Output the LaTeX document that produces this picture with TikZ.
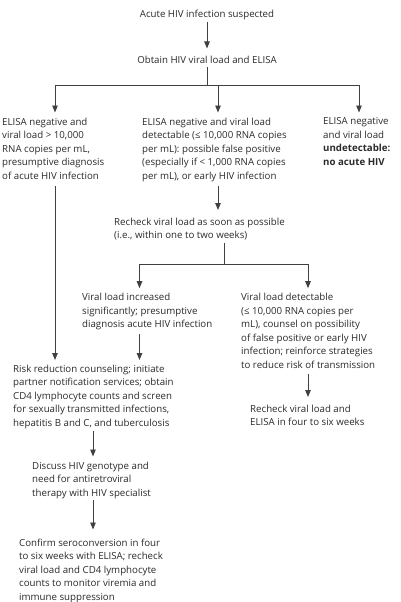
\documentclass[tikz,border=0pt]{standalone}
\usepackage{fontspec}
\setmainfont{Open Sans}
\usetikzlibrary{arrows.meta}
\definecolor{txt}{HTML}{2A2A2A}
\definecolor{lnc}{HTML}{404040}
\begin{document}
\begin{tikzpicture}[x=1pt,y=-1pt,
  txtnode/.style={inner sep=0pt, align=left, text=txt, font=\fontsize{9.7}{13.5}\selectfont,
    execute at begin node=\strut, execute at end node=\strut},
  ln/.style={draw=lnc, line width=0.9pt},
  arr/.style={ln, -{Triangle[length=7pt,width=5.5pt]}, shorten >=5pt}]
\useasboundingbox (0,0) rectangle (400,602);
\node[txtnode, anchor=north] (acute) at (207,7.5) {Acute HIV infection suspected};
\node[txtnode, anchor=north] (obtain) at (207,53.5) {Obtain HIV viral load and ELISA};
\node[txtnode, anchor=north west] (n1) at (2,117.5) {ELISA negative and\\viral load > 10,000\\RNA copies per mL,\\presumptive diagnosis\\of acute HIV infection};
\node[txtnode, anchor=north west] (n2) at (142,117.5) {ELISA negative and viral load\\detectable (≤ 10,000 RNA copies\\per mL): possible false positive\\(especially if < 1,000 RNA copies\\per mL), or early HIV infection};
\node[txtnode, anchor=north west] (n3) at (323,117.5) {ELISA negative\\and viral load\\\textbf{undetectable:}\\\textbf{no acute HIV}};
\node[txtnode, anchor=north west] (rc1) at (114,217.5) {Recheck viral load as soon as possible\\(i.e., within one to two weeks)};
\node[txtnode, anchor=north west] (vinc) at (82,293.2) {Viral load increased\\significantly; presumptive\\diagnosis acute HIV infection};
\node[txtnode, anchor=north west] (vdet) at (241,293.2) {Viral load detectable\\(≤ 10,000 RNA copies per\\mL), counsel on possibility\\of false positive or early HIV\\infection; reinforce strategies\\to reduce risk of transmission};
\node[txtnode, anchor=north west] (rc2) at (250,404.5) {Recheck viral load and\\ELISA in four to six weeks};
\node[txtnode, anchor=north west] (risk) at (13,364.5) {Risk reduction counseling; initiate\\partner notification services; obtain\\CD4 lymphocyte counts and screen\\for sexually transmitted infections,\\hepatitis B and C, and tuberculosis};
\node[txtnode, anchor=north west] (disc) at (32,461.5) {Discuss HIV genotype and\\need for antiretroviral\\therapy with HIV specialist};
\node[txtnode, anchor=north west] (conf) at (19,538.5) {Confirm seroconversion in four\\to six weeks with ELISA; recheck\\viral load and CD4 lymphocyte\\counts to monitor viremia and\\immune suppression};
% branch coordinates
\coordinate (b1) at (207,85);
\coordinate (b1l) at (55,85);
\coordinate (b1m) at (218,85);
\coordinate (b1r) at (359,85);
\coordinate (b2) at (224,264);
\coordinate (b2l) at (139.5,264);
\coordinate (b2r) at (308,264);
\coordinate (cx) at (93,0);
% connectors
\draw[arr, shorten <=1pt] (acute) -- (obtain);
\draw[ln] (obtain) -- (b1);
\draw[ln] (b1l) -- (b1r);
\draw[arr] (b1l) -- (b1l |- n1.north);
\draw[arr] (b1m) -- (b1m |- n2.north);
\draw[arr] (b1r) -- (b1r |- n3.north);
\draw[arr, shorten <=3pt, shorten >=7.5pt] (n2.south -| b1m) -- (b1m |- rc1.north);
\draw[ln] (rc1.south -| b2) -- (b2);
\draw[ln] (b2l) -- (b2r);
\draw[arr] (b2l) -- (b2l |- vinc.north);
\draw[arr] (b2r) -- (b2r |- vdet.north);
\draw[arr, shorten <=3pt, shorten >=4.5pt] (n1.south -| b1l) -- (b1l |- risk.north);
\draw[arr, shorten <=2pt, shorten >=4.5pt] (vinc.south -| b2l) -- (b2l |- risk.north);
\draw[arr, shorten <=1pt, shorten >=7.5pt] (vdet.south -| b2r) -- (b2r |- rc2.north);
\draw[arr, shorten <=1pt] (risk.south -| cx) -- (disc.north -| cx);
\draw[arr, shorten >=9pt] (disc.south -| cx) -- (conf.north -| cx);
\end{tikzpicture}
\end{document}
